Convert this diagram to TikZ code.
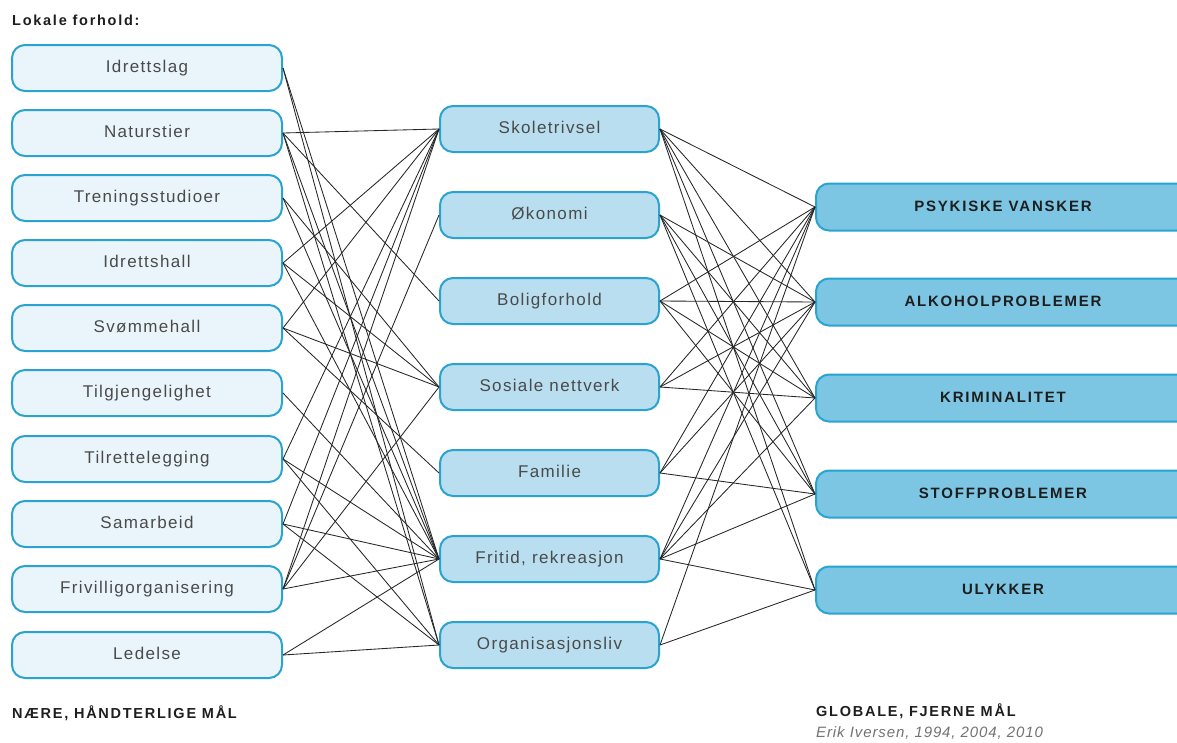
\documentclass[tikz,border=0pt]{standalone}
\usepackage{fontspec}
\setmainfont{Liberation Sans}
\newfontfamily\boxfont[LetterSpace=8]{Liberation Sans}
\newfontfamily\capfont[LetterSpace=12]{Liberation Sans}
\newfontfamily\headfont[LetterSpace=12]{Liberation Sans}
\newfontfamily\srcfont[LetterSpace=6]{Liberation Sans}
\definecolor{bordc}{HTML}{2AA3D0}
\definecolor{lfill}{HTML}{EAF5FB}
\definecolor{mfill}{HTML}{B8DEF0}
\definecolor{rfill}{HTML}{7CC6E4}
\definecolor{txtc}{HTML}{4A4A4A}
\definecolor{darktxt}{HTML}{1E1E1E}
\begin{document}
\begin{tikzpicture}[x=1pt,y=-1pt,
  box/.style={draw=bordc, line width=2pt, rounded corners=13pt, minimum height=46pt,
    inner sep=0pt, text height=12pt, text depth=3pt},
  lbox/.style={box, fill=lfill, minimum width=270pt, text=txtc, font=\boxfont\fontsize{17}{19}\selectfont},
  mbox/.style={box, fill=mfill, minimum width=219pt, text=txtc, font=\boxfont\fontsize{17}{19}\selectfont},
  rbox/.style={box, fill=rfill, minimum width=374pt, minimum height=47pt, text=darktxt, font=\capfont\bfseries\fontsize{15}{18}\selectfont},
  conn/.style={draw=black!85, line width=0.85pt},
  head/.style={anchor=west, inner sep=0pt, text=darktxt, font=\headfont\bfseries\fontsize{14.5}{16}\selectfont}]
\useasboundingbox (0,0) rectangle (1177,742);
\clip (0,0) rectangle (1177,742);
\fill[white] (0,0) rectangle (1177,742);

% headings
\node[head] (hl) at (12,20) {Lokale forhold:};
\node[head] (hn) at (12,713) {NÆRE, HÅNDTERLIGE MÅL};
\node[head] (hg) at (816,711) {GLOBALE, FJERNE MÅL};
\node[anchor=west, inner sep=0pt, text=black!55, font=\srcfont\itshape\fontsize{15}{17}\selectfont] (src) at (816,733) {Erik Iversen, 1994, 2004, 2010};

% left column
\node[lbox] (L1)  at (147,68)  {Idrettslag};
\node[lbox] (L2)  at (147,133) {Naturstier};
\node[lbox] (L3)  at (147,198) {Treningsstudioer};
\node[lbox] (L4)  at (147,263) {Idrettshall};
\node[lbox] (L5)  at (147,328) {Svømmehall};
\node[lbox] (L6)  at (147,393) {Tilgjengelighet};
\node[lbox] (L7)  at (147,459) {Tilrettelegging};
\node[lbox] (L8)  at (147,524) {Samarbeid};
\node[lbox] (L9)  at (147,589) {Frivilligorganisering};
\node[lbox] (L10) at (147,655) {Ledelse};

% middle column
\node[mbox] (M1) at (549.5,129) {Skoletrivsel};
\node[mbox] (M2) at (549.5,215) {Økonomi};
\node[mbox] (M3) at (549.5,301) {Boligforhold};
\node[mbox] (M4) at (549.5,387) {Sosiale nettverk};
\node[mbox] (M5) at (549.5,473) {Familie};
\node[mbox] (M6) at (549.5,559) {Fritid, rekreasjon};
\node[mbox] (M7) at (549.5,645) {Organisasjonsliv};

% right column
\node[rbox] (R1) at (1003,207) {PSYKISKE VANSKER};
\node[rbox] (R2) at (1003,302) {ALKOHOLPROBLEMER};
\node[rbox] (R3) at (1003,398) {KRIMINALITET};
\node[rbox] (R4) at (1003,494) {STOFFPROBLEMER};
\node[rbox] (R5) at (1003,590) {ULYKKER};

% left -> middle
\foreach \a/\b in {L1/M6, L1/M7,
  L2/M1, L2/M3, L2/M6, L2/M7,
  L3/M4, L3/M6,
  L4/M1, L4/M4, L4/M6,
  L5/M1, L5/M4, L5/M5,
  L6/M6,
  L7/M1, L7/M6, L7/M7,
  L8/M1, L8/M6, L8/M7,
  L9/M1, L9/M2, L9/M4, L9/M6,
  L10/M6, L10/M7}
  \draw[conn] (\a.east) -- (\b.west);

% middle -> right
\foreach \a/\b in {M1/R1, M1/R2, M1/R3, M1/R4, M1/R5,
  M2/R2, M2/R3, M2/R4, M2/R5,
  M3/R1, M3/R2, M3/R3, M3/R4,
  M4/R1, M4/R2, M4/R3,
  M5/R1, M5/R2, M5/R4,
  M6/R1, M6/R2, M6/R3, M6/R4, M6/R5,
  M7/R1, M7/R5}
  \draw[conn] (\a.east) -- (\b.west);
\end{tikzpicture}
\end{document}
